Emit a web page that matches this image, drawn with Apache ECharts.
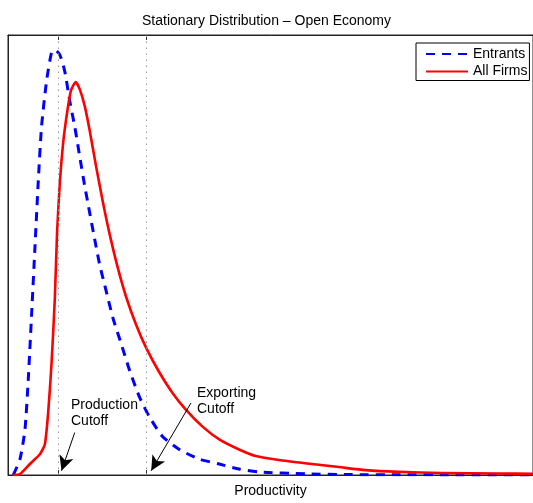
<!DOCTYPE html>
<html>
<head>
<meta charset="utf-8">
<style>
  html, body { margin: 0; padding: 0; background: #fff; }
  #chart { width: 533px; height: 503px; }
</style>
<script src="https://cdn.jsdelivr.net/npm/echarts@6/dist/echarts.min.js"></script>
</head>
<body>
<div id="chart"></div>
<script>
// Productivity grid points and densities (density scaled to 100 at the top of the axes)
const entrantsX = [1.01, 2.28, 3.23, 3.85, 4.50, 5.12, 5.75, 6.39, 7.34, 8.29, 8.92, 9.87, 10.82, 11.76, 12.71, 13.66, 14.61, 15.56, 16.51, 17.46, 18.73, 19.98, 21.57, 23.15, 25.05, 26.94, 29.47, 32.64, 36.43, 40.23, 44.02, 47.82, 56.74, 65.0, 74.4, 85.0, 100];
const entrantsY = [0, 3.6, 10.3, 21.5, 36.6, 51.4, 66.4, 79.2, 89.5, 96.0, 96.6, 95.5, 91.7, 85.0, 79.2, 72.4, 65.7, 59.6, 53.6, 47.8, 41.7, 35.7, 29.8, 23.8, 17.7, 13.2, 8.7, 5.8, 3.6, 2.5, 1.35, 0.7, 0.25, 0.1, 0.05, 0.02, 0];

const allFirmsX = [1.01, 2.28, 4.17, 6.07, 7.02, 7.65, 8.29, 8.92, 9.35, 9.87, 10.49, 11.14, 11.95, 12.90, 13.66, 14.61, 15.56, 16.83, 18.08, 19.35, 20.93, 22.52, 24.42, 26.32, 28.84, 31.37, 33.91, 37.06, 40.23, 44.02, 47.19, 51.61, 57.87, 63.00, 68.12, 74.38, 82.54, 93.4, 100];
const allFirmsY = [0, 0.2, 2.5, 4.7, 7.0, 14.1, 25.3, 40.1, 55.2, 66.4, 75.3, 81.4, 87.2, 89.3, 87.7, 83.9, 78.3, 69.8, 62.0, 54.8, 47.0, 40.4, 34.1, 28.9, 23.3, 18.6, 14.8, 11.0, 8.1, 5.8, 4.3, 3.4, 2.5, 1.8, 1.1, 0.7, 0.45, 0.34, 0.3];

// Cutoffs on the productivity axis
const productionCutoff = 9.49;
const exportingCutoff = 26.38;

// Annotation arrows: [label tail, arrow tip] in data units
const productionArrow = [[12.71, 9.64], [10.19, 0.96]];
const exportingArrow = [[34.86, 16.37], [27.27, 0.96]];

const seriesNames = ['Entrants', 'All Firms'];
const titleText = 'Stationary Distribution \u2013 Open Economy';
const xAxisName = 'Productivity';

const FONT = 'Liberation Sans, Arial, Helvetica, sans-serif';

function pairs(xs, ys) { return xs.map((x, i) => [x, ys[i]]); }

const chart = echarts.init(document.getElementById('chart'), null, { renderer: 'canvas' });

const tickCfg = {
  show: true,
  inside: true,
  length: 5,
  customValues: [productionCutoff, exportingCutoff],
  lineStyle: { color: '#333', width: 1 }
};

const arrowLine = (a) => [
  { coord: a[0], symbol: 'none' },
  { coord: a[1], symbol: 'arrow', symbolSize: [11, 15] }
];

chart.setOption({
  animation: false,
  backgroundColor: '#fff',
  title: {
    text: titleText,
    left: 'center',
    top: 9,
    textStyle: { fontFamily: FONT, fontSize: 14, fontWeight: 'normal', color: '#000' }
  },
  legend: {
    data: seriesNames,
    orient: 'vertical',
    left: 416,
    top: 43,
    itemWidth: 42,
    itemHeight: 14,
    itemGap: 3.5,
    padding: [4, 2, 2, 9],
    borderColor: '#000',
    borderWidth: 1,
    backgroundColor: '#fff',
    itemStyle: { opacity: 0 },
    textStyle: { fontFamily: FONT, fontSize: 14, color: '#000' }
  },
  grid: {
    left: 8,
    top: 35,
    width: 527,
    height: 446,
    show: true,
    borderColor: '#222',
    borderWidth: 1,
    backgroundColor: 'transparent'
  },
  xAxis: [
    {
      type: 'value',
      min: 0,
      max: 100,
      position: 'bottom',
      name: xAxisName,
      nameLocation: 'middle',
      nameGap: 9,
      nameTextStyle: { fontFamily: FONT, fontSize: 14, color: '#000' },
      axisLine: { show: true, onZero: false, lineStyle: { color: '#222', width: 1 } },
      axisTick: tickCfg,
      axisLabel: { show: false },
      splitLine: { show: false }
    },
    {
      type: 'value',
      min: 0,
      max: 100,
      position: 'top',
      axisLine: { show: true, onZero: false, lineStyle: { color: '#222', width: 1 } },
      axisTick: tickCfg,
      axisLabel: { show: false },
      splitLine: { show: false }
    }
  ],
  yAxis: {
    type: 'value',
    min: 0,
    max: 100,
    axisLine: { show: true, onZero: false, lineStyle: { color: '#222', width: 1 } },
    axisTick: { show: false },
    axisLabel: { show: false },
    splitLine: { show: false }
  },
  graphic: [
    {
      type: 'text',
      left: 71,
      top: 397,
      style: { text: 'Production\nCutoff', font: '14px ' + FONT, lineHeight: 16, fill: '#000' }
    },
    {
      type: 'text',
      left: 197,
      top: 385.5,
      style: { text: 'Exporting\nCutoff', font: '14px ' + FONT, lineHeight: 16, fill: '#000' }
    }
  ],
  series: [
    {
      name: 'cutoffs',
      type: 'line',
      data: [],
      silent: true,
      markLine: {
        silent: true,
        symbol: 'none',
        label: { show: false },
        lineStyle: { color: '#999', width: 1, type: [1.5, 4.5] },
        data: [{ xAxis: productionCutoff }, { xAxis: exportingCutoff }]
      }
    },
    {
      name: 'arrows',
      type: 'line',
      data: [],
      silent: true,
      z: 5,
      markLine: {
        silent: true,
        label: { show: false },
        lineStyle: { color: '#000', width: 1, type: 'solid' },
        itemStyle: { color: '#000' },
        data: [arrowLine(productionArrow), arrowLine(exportingArrow)]
      }
    },
    {
      name: seriesNames[0],
      type: 'line',
      data: pairs(entrantsX, entrantsY),
      symbol: 'none',
      smooth: 0.2,
      z: 3,
      itemStyle: { color: '#0000ff' },
      lineStyle: { color: '#0000ff', width: 3, type: [9, 7], join: 'round' }
    },
    {
      name: seriesNames[1],
      type: 'line',
      data: pairs(allFirmsX, allFirmsY),
      symbol: 'none',
      smooth: 0.2,
      z: 4,
      itemStyle: { color: '#ff0000' },
      lineStyle: { color: '#ff0000', width: 2.6, type: 'solid', join: 'round' }
    }
  ]
});
</script>
</body>
</html>
